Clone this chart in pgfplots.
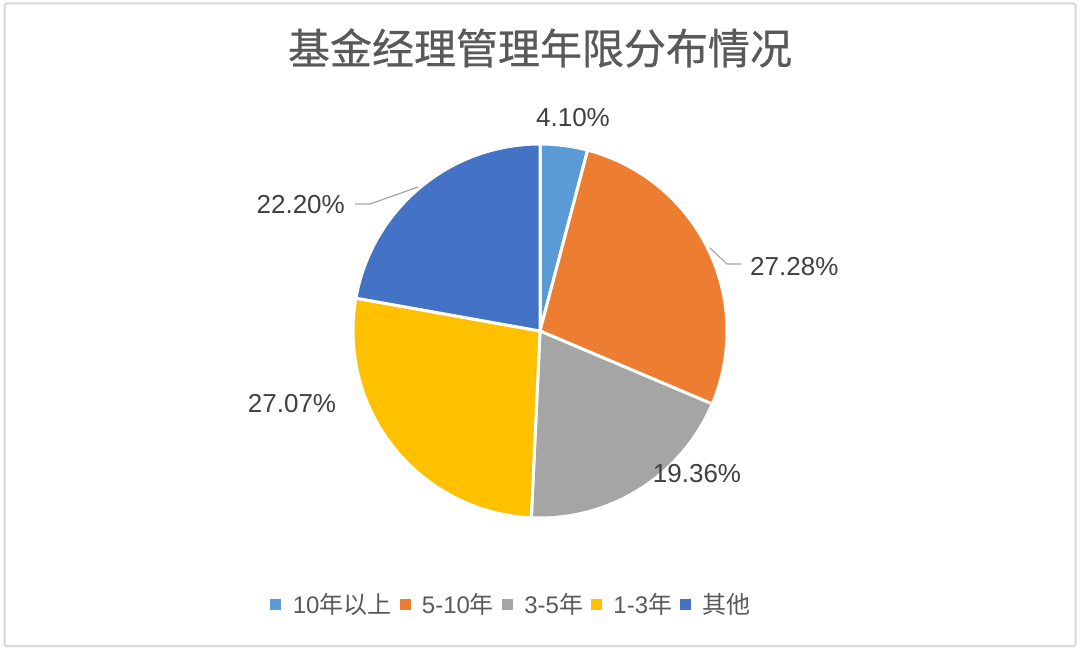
\documentclass[border=0pt]{standalone}
\usepackage{pgfplots}
\pgfplotsset{compat=1.18}
\usepackage{pgfplotstable}
\usepackage{fontspec}
\setmainfont{Liberation Sans}
\newfontfamily\cjk{Noto Sans CJK SC}
\newfontfamily\cjkt[FakeBold=0.6]{Noto Sans CJK SC}
\definecolor{c0}{HTML}{5B9BD5}
\definecolor{c1}{HTML}{ED7D31}
\definecolor{c2}{HTML}{A5A5A5}
\definecolor{c3}{HTML}{FFC000}
\definecolor{c4}{HTML}{4472C4}
\definecolor{titlegray}{HTML}{595959}
\definecolor{labelgray}{HTML}{404040}
\definecolor{framegray}{HTML}{D9D9D9}
\pgfplotstableread{
name value
A 4.10
B 27.28
C 19.36
D 27.07
E 22.20
}\piedata
\begin{document}
\begin{tikzpicture}
\def\cumsum{0}
\pgfplotsforeachungrouped \i in {0,...,4}{%
  \pgfplotstablegetelem{\i}{value}\of\piedata
  \pgfmathsetmacro\mysa{90-3.6*\cumsum}%
  \pgfmathsetmacro\myea{90-3.6*(\cumsum+\pgfplotsretval)}%
  \expandafter\xdef\csname sa\i\endcsname{\mysa}%
  \expandafter\xdef\csname ea\i\endcsname{\myea}%
  \pgfmathsetmacro\cumsum{\cumsum+\pgfplotsretval}%
}
\begin{axis}[
  width=1080bp, height=651bp, scale only axis,
  xmin=0, xmax=1080, ymin=0, ymax=651, enlargelimits=false,
  hide axis, clip=false,
  legend columns=5,
  legend style={at={(axis cs:511.5,47)}, anchor=center, draw=none, fill=none,
    font=\fontsize{24bp}{28bp}\selectfont, text=titlegray,
    /tikz/every odd column/.append style={column sep=10bp},
    /tikz/every even column/.append style={column sep=6bp}},
  legend image code/.code={\fill[#1] (0bp,-5bp) rectangle (10bp,5bp);},
]
\path (axis cs:0,0) rectangle (axis cs:1080,651);
\draw[framegray, line width=2bp, rounded corners=2bp] (axis cs:4.5,647.5) rectangle (axis cs:1075.5,5);
\pgfplotsinvokeforeach{0,...,4}{%
  \fill[c#1, draw=white, line width=3bp, line join=round]
    (axis cs:540,320) -- ++(\csname sa#1\endcsname:187bp)
    arc[start angle=\csname sa#1\endcsname, end angle=\csname ea#1\endcsname, radius=187bp] -- cycle;
}
\addlegendimage{c0}\addlegendentry{10{\cjk 年以上}}
\addlegendimage{c1}\addlegendentry{5-10{\cjk 年}}
\addlegendimage{c2}\addlegendentry{3-5{\cjk 年}}
\addlegendimage{c3}\addlegendentry{1-3{\cjk 年}}
\addlegendimage{c4}\addlegendentry{{\cjk 其他}}
\node[text=titlegray, font=\cjkt\fontsize{42bp}{48bp}\selectfont] at (axis cs:540,603) {基金经理管理年限分布情况};
\begin{scope}[every node/.style={text=labelgray, font=\fontsize{26bp}{30bp}\selectfont, inner sep=0pt}]
\node at (axis cs:573,533) {4.10\%};
\node[anchor=west] at (axis cs:750,384) {27.28\%};
\node at (axis cs:697,177) {19.36\%};
\node at (axis cs:292,247) {27.07\%};
\node[anchor=east] at (axis cs:345,446) {22.20\%};
\end{scope}
\draw[gray!70, line width=1.2bp] (axis cs:710,403) -- (axis cs:727,387) -- (axis cs:741,387);
\draw[gray!70, line width=1.2bp] (axis cs:418,464) -- (axis cs:370,447) -- (axis cs:355,447);
\end{axis}
\end{tikzpicture}
\end{document}
